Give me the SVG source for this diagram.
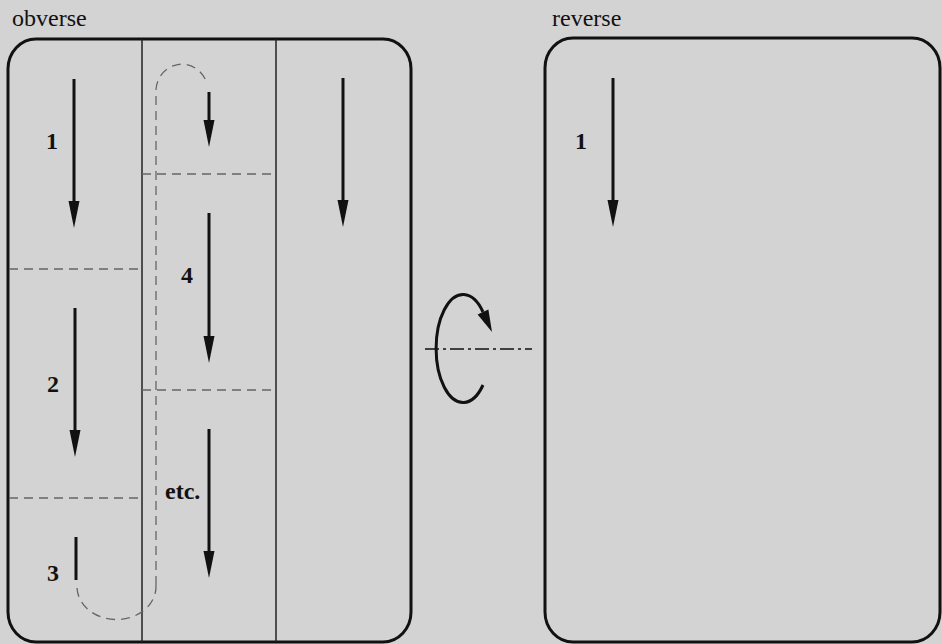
<svg xmlns="http://www.w3.org/2000/svg" width="942" height="644" viewBox="0 0 942 644">
<style>
.panel{fill:none;stroke:#111;stroke-width:3}
.div{stroke:#222;stroke-width:1.5}
.dash{fill:none;stroke:#666;stroke-width:1.3;stroke-dasharray:9 6}
.shaft{stroke:#111;stroke-width:3;fill:none}
.title{font-family:"Liberation Serif",serif;font-size:24px;fill:#111}
.num{font-family:"Liberation Serif",serif;font-size:24px;font-weight:bold;fill:#111}
</style>
<defs>
<marker id="ah" markerUnits="userSpaceOnUse" markerWidth="28" markerHeight="12" refX="7" refY="5.5" orient="auto" viewBox="0 0 28 11">
<path d="M0,0 L27,5.5 L0,11 z" fill="#111"/>
</marker>
</defs>
<rect width="942" height="644" fill="#d3d3d3"/>
<g id="obverse">
<text class="title" x="12" y="26">obverse</text>
<rect class="panel" x="8" y="39" width="403" height="603" rx="28" ry="30"/>
<line class="div" x1="142" y1="39" x2="142" y2="642"/>
<line class="div" x1="276" y1="39" x2="276" y2="642"/>
<line class="dash" x1="9" y1="269" x2="142" y2="269"/>
<line class="dash" x1="9" y1="498" x2="142" y2="498"/>
<line class="dash" x1="142" y1="174" x2="276" y2="174"/>
<line class="dash" x1="142" y1="390" x2="276" y2="390"/>
<path class="dash" d="M156,585 V93 A26 27 0 0 1 207 84"/>
<path class="dash" d="M156,585 A39.5 33 0 0 1 77 588"/>
<text class="num" x="46" y="149">1</text>
<text class="num" x="47" y="392">2</text>
<text class="num" x="47" y="581">3</text>
<text class="num" x="181" y="283">4</text>
<text class="num" x="165" y="499">etc.</text>
</g>
<g id="reverse">
<text class="title" x="552" y="26">reverse</text>
<rect class="panel" x="545" y="38" width="395" height="604" rx="28" ry="30"/>
<text class="num" x="575" y="149">1</text>
</g>
<g id="rotation">
<line x1="425" y1="349" x2="532" y2="349" stroke="#111" stroke-width="1.5" stroke-dasharray="14 4 3 4"/>
<path d="M483,385 A27 54 0 1 1 483 312" fill="none" stroke="#111" stroke-width="3"/>
<path d="M477.6,314.6 L492,332 L488.4,309.4 z" fill="#111"/>
</g>
<g id="connectors">
<line class="shaft" x1="74" y1="79" x2="74" y2="208" marker-end="url(#ah)"/>
<line class="shaft" x1="75" y1="308" x2="75" y2="437" marker-end="url(#ah)"/>
<line class="shaft" x1="76" y1="537" x2="76" y2="580"/>
<line class="shaft" x1="209" y1="92" x2="209" y2="127" marker-end="url(#ah)"/>
<line class="shaft" x1="209" y1="213" x2="209" y2="343" marker-end="url(#ah)"/>
<line class="shaft" x1="209" y1="429" x2="209" y2="558" marker-end="url(#ah)"/>
<line class="shaft" x1="343" y1="78" x2="343" y2="207" marker-end="url(#ah)"/>
<line class="shaft" x1="613" y1="78" x2="613" y2="207" marker-end="url(#ah)"/>
</g>
</svg>
